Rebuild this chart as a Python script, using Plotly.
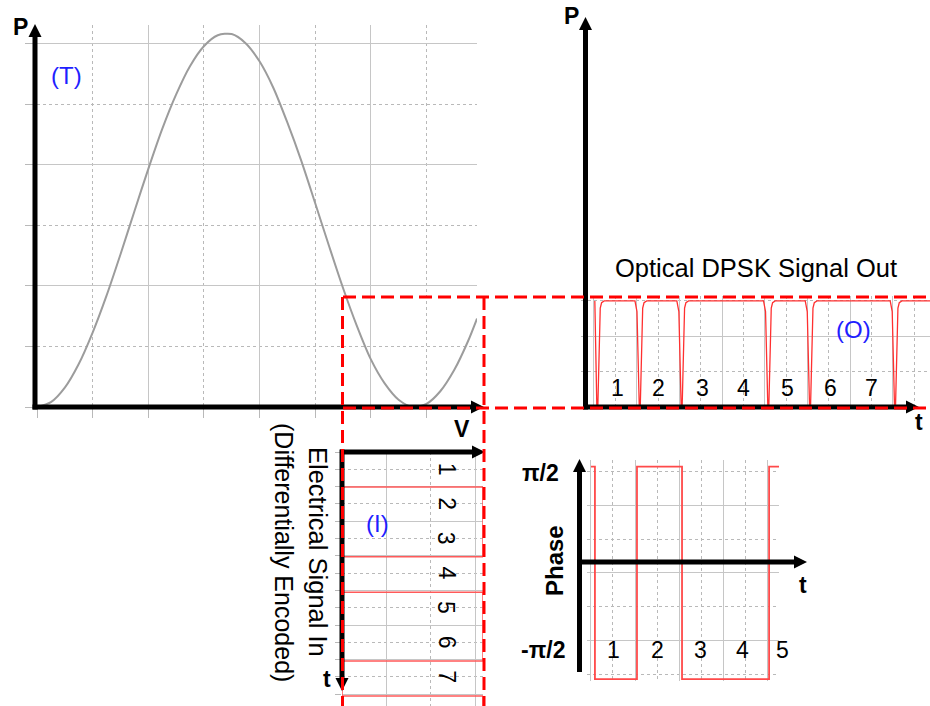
import numpy as np
import plotly.graph_objects as go

W, H = 930, 706
FONT = "Liberation Sans, Arial, sans-serif"

# ---------------- data ----------------
# (T) modulator transfer curve: P vs V (grid units)
tf_v = [0, 0.25, 0.5, 0.75, 1.0, 1.25, 1.5, 1.75, 2.0, 2.25, 2.5, 2.75, 3.0, 3.25, 3.5,
        3.75, 4.0, 4.25, 4.5, 4.75, 5.0, 5.25, 5.5, 5.75, 6.0, 6.25, 6.5, 6.75, 7.0,
        7.25, 7.5, 7.75, 7.91]
tf_p = [0, 0.08, 0.32, 0.71, 1.23, 1.84, 2.52, 3.23, 3.93, 4.59, 5.16, 5.63, 5.96, 6.14, 6.16,
        6.01, 5.71, 5.27, 4.70, 4.07, 3.37, 2.66, 1.97, 1.34, 0.79, 0.39, 0.12, 0.0, 0.05,
        0.26, 0.61, 1.09, 1.46]

# (O) optical DPSK output power vs time (bit units)
o_t = [0.02, 0.067, 0.090, 0.147, 0.178, 0.24,
       0.960, 1.007, 1.061, 1.084, 1.141, 1.172, 1.234,
       1.941, 1.988, 2.042, 2.065, 2.122, 2.153, 2.215,
       3.971, 4.018, 4.072, 4.095, 4.152, 4.183, 4.245,
       4.948, 4.995, 5.049, 5.072, 5.129, 5.160, 5.222,
       6.938, 6.985, 7.039, 7.062, 7.119, 7.150, 7.212,
       7.87]
o_p = [3.0, 0.0, 0.0, 2.8, 2.95, 3.0,
       3.0, 2.7, 0.0, 0.0, 2.8, 2.95, 3.0,
       3.0, 2.7, 0.0, 0.0, 2.8, 2.95, 3.0,
       3.0, 2.7, 0.0, 0.0, 2.8, 2.95, 3.0,
       3.0, 2.7, 0.0, 0.0, 2.8, 2.95, 3.0,
       3.0, 2.7, 0.0, 0.0, 2.8, 2.95, 3.0,
       3.0]
o_bits = ["1", "2", "3", "4", "5", "6", "7"]
o_bit_pos = [0.56, 1.52, 2.55, 3.51, 4.54, 5.53, 6.51]

# Phase vs time (bit units, radians)
ph_t = [0.0, 0.09, 0.09, 1.045, 1.045, 2.068, 2.068, 4.045, 4.045, 4.27]
ph_v = [np.pi/2, np.pi/2, -np.pi/2, -np.pi/2, np.pi/2, np.pi/2, -np.pi/2, -np.pi/2, np.pi/2, np.pi/2]
ph_bits = ["1", "2", "3", "4", "5"]
ph_bit_pos = [0.52, 1.50, 2.48, 3.43, 4.36]

# (I) electrical drive signal: V vs time (time downward)
i_t = [0.0, 1.01, 1.01, 3.03, 3.03, 4.05, 4.05, 6.04, 6.04, 7.05, 7.05, 7.34]
i_v = [0.0, 0.0, 3.18, 3.18, 0.0, 0.0, 3.18, 3.18, 0.0, 0.0, 3.18, 3.18]
i_bits = ["1", "2", "3", "4", "5", "6", "7"]
i_bit_pos = [0.5, 1.5, 2.5, 3.5, 4.5, 5.5, 6.5]


def px(x):
    return x / W


def py(y):
    return 1 - y / H


GRID = "#c6c6c6"
MINOR = "#b9b9b9"
RED = "#ff3030"

fig = go.Figure()
fig.add_trace(go.Scatter(x=tf_v, y=tf_p, mode="lines", xaxis="x", yaxis="y",
                         line=dict(color="#9c9c9c", width=2, shape="spline", smoothing=0.8),
                         hoverinfo="skip", showlegend=False))
fig.add_trace(go.Scatter(x=o_t, y=o_p, mode="lines", xaxis="x2", yaxis="y2",
                         line=dict(color=RED, width=1.3), hoverinfo="skip", showlegend=False))
fig.add_trace(go.Scatter(x=ph_t, y=ph_v, mode="lines", xaxis="x3", yaxis="y3",
                         line=dict(color="#ff4a4a", width=1.8), hoverinfo="skip", showlegend=False))
fig.add_trace(go.Scatter(x=i_v, y=i_t, mode="lines", xaxis="x4", yaxis="y4",
                         line=dict(color="#ff5a5a", width=1.5), hoverinfo="skip", showlegend=False))


def ax(domain, rng, dtick, mdtick, tick0=0, mtick0=0, ticks="", ticklen=0, anchor=None):
    d = dict(domain=domain, range=rng, showgrid=True, gridcolor=GRID, gridwidth=1,
             tickmode="linear", tick0=tick0, dtick=dtick, zeroline=False, showline=False,
             showticklabels=False, ticks=ticks, ticklen=ticklen, tickcolor=MINOR, tickwidth=1,
             fixedrange=True,
             minor=dict(tickmode="linear", tick0=mtick0, dtick=mdtick, showgrid=True,
                        gridcolor=MINOR, griddash="3px,3px", gridwidth=1,
                        ticks=ticks, ticklen=ticklen, tickcolor=MINOR, tickwidth=1))
    if anchor:
        d["anchor"] = anchor
    return d


layout = dict(
    width=W, height=H, margin=dict(l=0, r=0, t=0, b=0),
    paper_bgcolor="white", plot_bgcolor="white", showlegend=False,
    xaxis=ax([px(37), px(477)], [0, 7.91], 2, 1, ticks="outside", ticklen=10, anchor="y"),
    yaxis=ax([py(407), py(25)], [0, 6.31], 2, 1, ticks="outside", ticklen=11, anchor="x"),
    xaxis2=ax([px(588), px(930)], [-0.14, 7.87], 1, 0.5, anchor="y2"),
    yaxis2=ax([py(407), py(296)], [0, 3.14], 2, 1, ticks="outside", ticklen=6, anchor="x2"),
    xaxis3=ax([px(587), px(779)], [-0.09, 4.27], 1, 0.5, anchor="y3"),
    yaxis3=ax([py(681), py(460)], [-1.60, 1.67], 1, 0.5, anchor="x3"),
    xaxis4=ax([px(342), px(483)], [0, 3.18], 2, 1, tick0=1, mtick0=0, anchor="y4"),
    yaxis4=ax([py(706), py(452)], [7.34, 0], 1, 0.5, ticks="outside", ticklen=6, anchor="x4"),
)
fig.update_layout(**layout)

shapes = []


def seg(x0, y0, x1, y1, color="black", width=5, dash=None):
    line = dict(color=color, width=width)
    if dash:
        line["dash"] = dash
    shapes.append(dict(type="line", xref="paper", yref="paper",
                       x0=px(x0), y0=py(y0), x1=px(x1), y1=py(y1), line=line, layer="above"))


def head(tx, ty, direction, L=13, hw=6.5):
    if direction == "up":
        pts = [(tx, ty), (tx - hw, ty + L), (tx + hw, ty + L)]
    elif direction == "down":
        pts = [(tx, ty), (tx - hw, ty - L), (tx + hw, ty - L)]
    else:  # right
        pts = [(tx, ty), (tx - L, ty - hw), (tx - L, ty + hw)]
    path = "M " + " L ".join(f"{px(a):.5f},{py(b):.5f}" for a, b in pts) + " Z"
    shapes.append(dict(type="path", xref="paper", yref="paper", path=path,
                       fillcolor="black", line=dict(color="black", width=0), layer="above"))


# black axes with arrows
seg(35, 409.5, 35, 36); head(35, 24, "up")
seg(32.5, 407, 472, 407); head(484, 407, "right")
seg(585.5, 409.5, 585.5, 29); head(585.5, 17, "up")
seg(583, 407, 906, 407); head(919, 407, "right")
seg(340, 452, 472, 452); head(485, 452, "right")
seg(342, 449.5, 342, 679); head(342, 691, "down")
seg(579.5, 672, 579.5, 471); head(579.5, 459, "up")
seg(577, 562, 794, 562); head(807, 562, "right")

# red dashed selection box
DASH = "13px,6px"
seg(343, 297, 930, 297, color="#ff0000", width=3, dash=DASH)
seg(343, 408, 930, 408, color="#ff0000", width=3, dash=DASH)
seg(342.5, 297, 342.5, 706, color="#ff0000", width=3, dash=DASH)
seg(484, 297, 484, 706, color="#ff0000", width=3, dash=DASH)

fig.update_layout(shapes=shapes)

ann = []


def txt(x, y, s, size=22, color="black", bold=False, angle=0):
    t = f"<b>{s}</b>" if bold else s
    ann.append(dict(x=px(x), y=py(y), xref="paper", yref="paper", text=t, showarrow=False,
                    xanchor="center", yanchor="middle", textangle=angle,
                    font=dict(family=FONT, size=size, color=color)))


txt(20, 27, "P", 23, bold=True)
txt(462, 429, "V", 23, bold=True)
txt(66, 75, "(T)", 24, color="#1f1fff")
txt(571, 16, "P", 23, bold=True)
txt(919, 422, "t", 23, bold=True)
txt(756, 268, "Optical DPSK Signal Out", 25.5)
txt(853, 330, "(O)", 24, color="#1f1fff")
txt(377, 523, "(I)", 24, color="#1f1fff")
txt(327, 679, "t", 23, bold=True)
txt(318, 552, "Electrical Signal In", 25.5, angle=90)
txt(284, 552, "(Differentially Encoded)", 25, angle=90)
txt(554, 561, "Phase", 24, bold=True, angle=-90)
txt(540, 473, "π/2", 23, bold=True)
txt(543, 650, "-π/2", 23, bold=True)
txt(803, 585, "t", 23, bold=True)

DIG = 23
# digit labels placed through the panels' own axes (x converted to paper for the phase panel
# so the last label, which sits past the plotted range, is still shown)
for s, p in zip(o_bits, o_bit_pos):
    ann.append(dict(x=p, y=0.55, xref="x2", yref="y2", text=s, showarrow=False,
                    xanchor="center", yanchor="middle", font=dict(family=FONT, size=DIG, color="black")))
x3_lo, x3_hi = -0.09, 4.27
for s, p in zip(ph_bits, ph_bit_pos):
    xp = px(587) + (p - x3_lo) / (x3_hi - x3_lo) * (px(779) - px(587))
    ann.append(dict(x=xp, y=-1.14, xref="paper", yref="y3", text=s, showarrow=False,
                    xanchor="center", yanchor="middle", font=dict(family=FONT, size=DIG, color="black")))
for s, p in zip(i_bits, i_bit_pos):
    ann.append(dict(x=2.36, y=p, xref="x4", yref="y4", text=s, showarrow=False, textangle=90,
                    xanchor="center", yanchor="middle", font=dict(family=FONT, size=DIG, color="black")))

fig.update_layout(annotations=ann)
fig.write_html("out.html")
